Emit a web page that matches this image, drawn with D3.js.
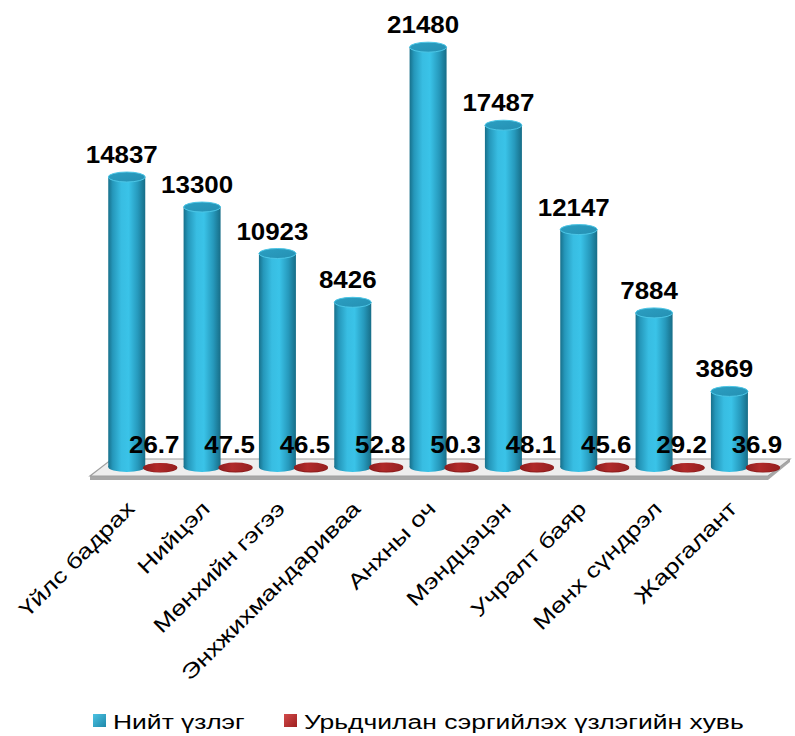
<!DOCTYPE html>
<html>
<head>
<meta charset="utf-8">
<script src="https://d3js.org/d3.v7.min.js"></script>
<style>
  body { margin: 0; background: #fff; }
  text { font-family: "Liberation Sans", Arial, sans-serif; }
</style>
</head>
<body>
<div id="chart"></div>
<script>
var categories = ["Үйлс бадрах", "Нийцэл", "Мөнхийн гэгээ", "Энхжихмандариваа", "Анхны оч", "Мэндцэцэн", "Учралт баяр", "Мөнх сүндрэл", "Жаргалант"];
var totalExams = [14837, 13300, 10923, 8426, 21480, 17487, 12147, 7884, 3869];
var preventivePct = [26.7, 47.5, 46.5, 52.8, 50.3, 48.1, 45.6, 29.2, 36.9];
var seriesNames = ["Нийт үзлэг", "Урьдчилан сэргийлэх үзлэгийн хувь"];

var width = 795, height = 736;
var numStretch = 1.08, txtStretch = 1.26; // the original font is wider than Liberation Sans

var svg = d3.select("#chart").append("svg")
  .attr("width", width)
  .attr("height", height);

var defs = svg.append("defs");

var bodyGrad = defs.append("linearGradient").attr("id", "blueBody")
  .attr("x1", "0%").attr("x2", "100%").attr("y1", "0%").attr("y2", "0%");
[["0%", "#17708b"], ["12%", "#2597ba"], ["35%", "#38bde2"], ["55%", "#3ac3e8"], ["80%", "#2699bc"], ["100%", "#176d87"]]
  .forEach(function(s) { bodyGrad.append("stop").attr("offset", s[0]).attr("stop-color", s[1]); });

var topGrad = defs.append("linearGradient").attr("id", "blueTop")
  .attr("x1", "0%").attr("x2", "100%").attr("y1", "0%").attr("y2", "100%");
[["0%", "#2b9fc2"], ["100%", "#2590b3"]]
  .forEach(function(s) { topGrad.append("stop").attr("offset", s[0]).attr("stop-color", s[1]); });

var redGrad = defs.append("linearGradient").attr("id", "redTop")
  .attr("x1", "0%").attr("x2", "100%").attr("y1", "0%").attr("y2", "0%");
[["0%", "#8f1d1d"], ["40%", "#b02a2a"], ["100%", "#951f1f"]]
  .forEach(function(s) { redGrad.append("stop").attr("offset", s[0]).attr("stop-color", s[1]); });

var legBlue = defs.append("linearGradient").attr("id", "legBlue")
  .attr("x1", "0%").attr("x2", "100%").attr("y1", "0%").attr("y2", "100%");
legBlue.append("stop").attr("offset", "0%").attr("stop-color", "#4cc3e3");
legBlue.append("stop").attr("offset", "100%").attr("stop-color", "#1f88aa");

var legRed = defs.append("linearGradient").attr("id", "legRed")
  .attr("x1", "0%").attr("x2", "100%").attr("y1", "0%").attr("y2", "100%");
legRed.append("stop").attr("offset", "0%").attr("stop-color", "#d24a4a");
legRed.append("stop").attr("offset", "100%").attr("stop-color", "#9e1f1f");

// scales
var x = d3.scaleBand().domain(categories).range([90, 768]);
var xs = d3.scaleBand().domain(["total", "pct"]).range([20, 87]);
var y = d3.scaleLinear().domain([0, 22000]).range([467, 37]);

// floor
var floor = svg.append("g").attr("class", "floor");
floor.append("polygon")
  .attr("points", [[90, 476], [768, 476], [768, 480], [90, 480]].join(" "))
  .style("fill", "#a8a8a8");
floor.append("polygon")
  .attr("points", [[768, 476], [790, 459], [790, 462], [768, 480]].join(" "))
  .style("fill", "#a8a8a8");
floor.append("polygon")
  .attr("points", [[90, 476], [768, 476], [790, 459], [112, 459]].join(" "))
  .style("fill", "#eeeeee")
  .style("stroke", "#a0a0a0")
  .style("stroke-width", 1.2);

var rBlue = 18.5, ryBlue = 5, rRed = 17, ryRed = 4.5;

var rows = categories.map(function(c, i) {
  return { cat: c, total: totalExams[i], pct: preventivePct[i] };
});

var groups = svg.selectAll(".cat")
  .data(rows)
  .enter()
  .append("g")
    .attr("class", "cat");

// cylinders
groups.each(function(d) {
  var g = d3.select(this);
  var cx = x(d.cat) + xs("total") + xs.bandwidth() / 2;
  var top = y(d.total), base = y(0);
  g.append("ellipse")
    .attr("cx", cx).attr("cy", base)
    .attr("rx", rBlue).attr("ry", ryBlue)
    .style("fill", "url(#blueBody)");
  g.append("rect")
    .attr("x", cx - rBlue).attr("y", top)
    .attr("width", rBlue * 2).attr("height", base - top)
    .style("fill", "url(#blueBody)");
  g.append("ellipse")
    .attr("cx", cx).attr("cy", top)
    .attr("rx", rBlue).attr("ry", ryBlue)
    .style("fill", "url(#blueTop)")
    .style("stroke", "#4cc6e6")
    .style("stroke-width", 1);

  var rx = x(d.cat) + xs("pct") + xs.bandwidth() / 2;
  var rtop = y(d.pct);
  g.append("ellipse")
    .attr("cx", rx).attr("cy", base + 1)
    .attr("rx", rRed).attr("ry", ryRed)
    .style("fill", "#8a1c1c");
  g.append("ellipse")
    .attr("cx", rx).attr("cy", rtop + 1)
    .attr("rx", rRed).attr("ry", ryRed)
    .style("fill", "url(#redTop)");
});

// value labels
svg.selectAll(".totalLabel")
  .data(rows)
  .enter()
  .append("text")
    .attr("class", "totalLabel")
    .attr("transform", function(d) {
      var px = x(d.cat) + xs("total") + xs.bandwidth() / 2 - 5;
      return "translate(" + px + "," + (y(d.total) - 14) + ") scale(" + numStretch + ",1)";
    })
    .attr("text-anchor", "middle")
    .style("font-size", "24px")
    .style("font-weight", "bold")
    .style("fill", "#000")
    .text(function(d) { return d.total; });

svg.selectAll(".pctLabel")
  .data(rows)
  .enter()
  .append("text")
    .attr("class", "pctLabel")
    .attr("transform", function(d) {
      var px = x(d.cat) + xs("pct") + xs.bandwidth() / 2 - 6;
      return "translate(" + px + "," + (y(d.pct) - 13) + ") scale(" + numStretch + ",1)";
    })
    .attr("text-anchor", "middle")
    .style("font-size", "24px")
    .style("font-weight", "bold")
    .style("fill", "#000")
    .text(function(d) { return d3.format(".1f")(d.pct); });

// category labels
svg.selectAll(".catLabel")
  .data(categories)
  .enter()
  .append("text")
    .attr("class", "catLabel")
    .attr("text-anchor", "end")
    .attr("transform", function(d) {
      var px = x(d) + xs("total") + xs.bandwidth() / 2 + 9;
      return "translate(" + px + ",510) rotate(-45) scale(" + txtStretch + ",1)";
    })
    .style("font-size", "21px")
    .style("fill", "#000")
    .text(function(d) { return d; });

// legend
var legend = svg.append("g").attr("class", "legend");
var legX = [93, 284];
var legFill = ["url(#legBlue)", "url(#legRed)"];
seriesNames.forEach(function(name, i) {
  legend.append("rect")
    .attr("x", legX[i]).attr("y", 714)
    .attr("width", 13).attr("height", 13)
    .style("fill", legFill[i]);
  legend.append("text")
    .attr("transform", "translate(" + (legX[i] + 20) + ",729) scale(" + txtStretch + ",1)")
    .style("font-size", "21px")
    .style("fill", "#000")
    .text(name);
});
</script>
</body>
</html>
